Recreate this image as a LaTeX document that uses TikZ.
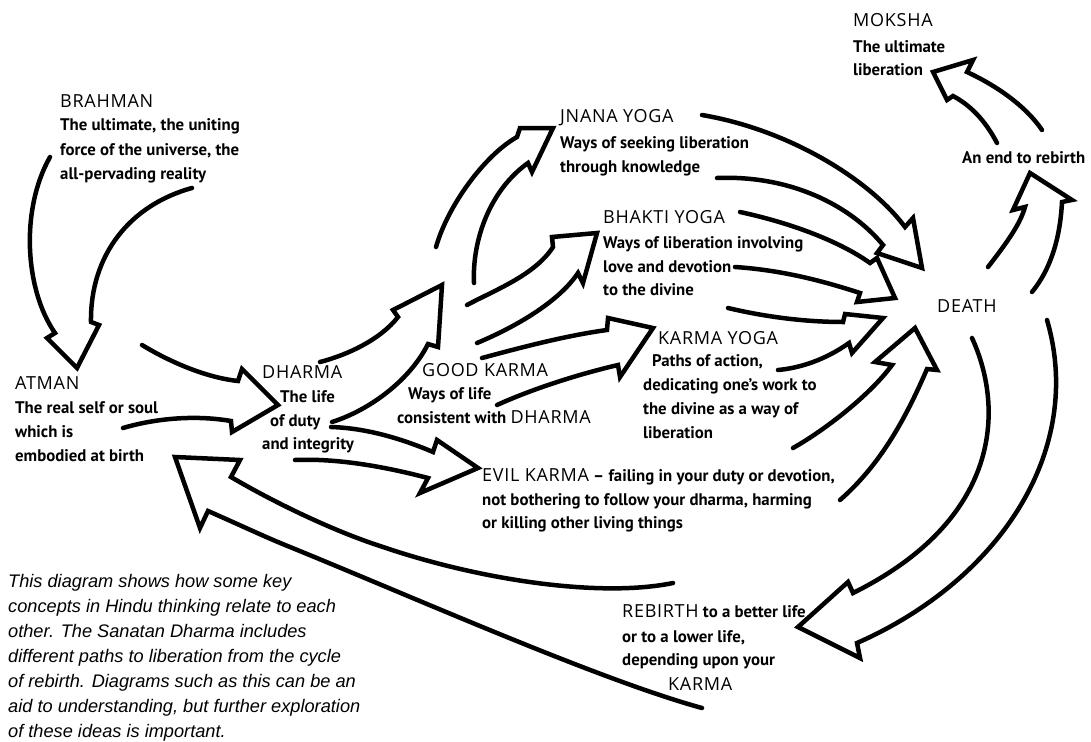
\documentclass[tikz,border=0pt]{standalone}
\usepackage{fontspec}
\setmainfont{PT Sans}
\newfontfamily\ttlfont[LetterSpace=4]{Open Sans}
\newfontfamily\capfont{Liberation Sans}
\begin{document}
\begin{tikzpicture}[x=1pt,y=-1pt,
  arr/.style={line width=4.5pt, line cap=round, line join=miter},
  ttl/.style={anchor=base west, inner sep=0pt, font=\ttlfont\fontsize{18}{20}\selectfont},
  bdy/.style={anchor=base west, inner sep=0pt, font=\fontsize{16.8}{20}\selectfont\bfseries},
  captxt/.style={anchor=base west, inner sep=0pt, font=\capfont\itshape\fontsize{18.2}{20}\selectfont}]
\useasboundingbox[fill=white] (0,0) rectangle (1091,741);

% ---------- texts ----------
\node[ttl] (brahman) at (60,107) {BRAHMAN};
\node[bdy] (brahman1) at (60,131) {The ultimate, the uniting};
\node[bdy] (brahman2) at (60,155) {force of the universe, the};
\node[bdy] (brahman3) at (60,179) {all-pervading reality};

\node[ttl] (atman) at (15,389) {ATMAN};
\node[bdy] (atman1) at (15,413) {The real self or soul};
\node[bdy] (atman2) at (15,437) {which is};
\node[bdy] (atman3) at (15,461) {embodied at birth};

\node[ttl] (dharma) at (262,378) {DHARMA};
\node[bdy] (dharma1) at (280,402) {The life};
\node[bdy] (dharma2) at (270,426) {of duty};
\node[bdy] (dharma3) at (262,449) {and integrity};

\node[ttl] (good) at (422,376) {GOOD KARMA};
\node[bdy] (good1) at (408,399) {Ways of life};
\node[bdy] (good2) at (397,423) {consistent with {\ttlfont\mdseries\fontsize{18}{20}\selectfont DHARMA}};

\node[ttl] (jnana) at (560,123) {JNANA YOGA};
\node[bdy] (jnana1) at (560,148) {Ways of seeking liberation};
\node[bdy] (jnana2) at (560,172) {through knowledge};

\node[ttl] (bhakti) at (603,223) {BHAKTI YOGA};
\node[bdy] (bhakti1) at (603,248) {Ways of liberation involving};
\node[bdy] (bhakti2) at (603,272) {love and devotion};
\node[bdy] (bhakti3) at (603,295) {to the divine};

\node[ttl] (karmay) at (658,344) {KARMA YOGA};
\node[bdy] (karmay1) at (652,366) {Paths of action,};
\node[bdy] (karmay2) at (643,390) {dedicating one’s work to};
\node[bdy] (karmay3) at (643,414) {the divine as a way of};
\node[bdy] (karmay4) at (643,438) {liberation};

\node[bdy] (evil) at (482,481) {{\ttlfont\mdseries\fontsize{18}{20}\selectfont EVIL KARMA} – failing in your duty or devotion,};
\node[bdy] (evil1) at (482,505) {not bothering to follow your dharma, harming};
\node[bdy] (evil2) at (482,528) {or killing other living things};

\node[ttl] (moksha) at (853,27) {MOKSHA};
\node[bdy] (moksha1) at (853,53) {The ultimate};
\node[bdy] (moksha2) at (853,76) {liberation};

\node[bdy] (endreb) at (962,163) {An end to rebirth};
\node[ttl] (death) at (937,312) {DEATH};

\node[bdy] (rebirth) at (622,617) {{\ttlfont\mdseries\fontsize{18}{20}\selectfont REBIRTH} to a better life};
\node[bdy] (rebirth1) at (622,642) {or to a lower life,};
\node[bdy] (rebirth2) at (622,665) {depending upon your};
\node[ttl] (rebirth3) at (668,690) {KARMA};

\node[captxt] (c1) at (8,587) {This diagram shows how some key};
\node[captxt] (c2) at (8,612) {concepts in Hindu thinking relate to each};
\node[captxt] (c3) at (8,637) {other. The Sanatan Dharma includes};
\node[captxt] (c4) at (8,662) {different paths to liberation from the cycle};
\node[captxt] (c5) at (8,687) {of rebirth. Diagrams such as this can be an};
\node[captxt] (c6) at (8,712) {aid to understanding, but further exploration};
\node[captxt] (c7) at (8,737) {of these ideas is important.};

% ---------- broad arrows ----------
% Brahman -> Atman
\draw[arr] (50,157) .. controls (20,210) and (25,290) .. (55,333) -- (47,338) -- (77,368) -- (99,325) -- (91,322) .. controls (90,255) and (130,205) .. (192,188);
% Atman -> Dharma
\draw[arr] (142,345) .. controls (175,365) and (210,378) .. (238,381) -- (242,369) -- (278,405) -- (232,432) -- (231,421) .. controls (190,414) and (150,420) .. (123,428);
% Dharma -> Good karma
\draw[arr] (320,362) .. controls (347,355) and (380,340) .. (398,317) -- (393,310) -- (442,285) -- (438,347) -- (428,344) .. controls (410,380) and (370,410) .. (332,422);
% Dharma -> Evil karma
\draw[arr] (331,427) .. controls (365,428) and (400,438) .. (433,452) -- (437,440) -- (478,468) -- (420,493) -- (428,478) .. controls (390,468) and (340,458) .. (295,460);
% Good karma -> Jnana yoga
\draw[arr] (436,247) .. controls (448,205) and (485,155) .. (517,137) -- (520,128) -- (553,128) -- (532,172) -- (528,163) .. controls (490,190) and (472,240) .. (474,283);
% Good karma -> Bhakti yoga
\draw[arr] (467,305) .. controls (495,290) and (535,275) .. (553,247) -- (552,237) -- (597,233) -- (583,283) -- (578,273) .. controls (560,300) and (520,325) .. (477,343);
% Good karma -> Karma yoga
\draw[arr] (482,358) .. controls (530,345) and (570,335) .. (607,330) -- (608,318) -- (653,328) -- (620,377) -- (618,365) .. controls (575,375) and (530,390) .. (497,405);
% Jnana -> Death
\draw[arr] (702,115) .. controls (790,130) and (870,180) .. (905,227) -- (913,218) -- (922,268) -- (877,253) -- (883,245) .. controls (850,205) and (790,175) .. (717,178);
% Bhakti -> Death
\draw[arr] (740,212) .. controls (800,225) and (845,245) .. (870,263) -- (877,258) -- (895,298) -- (857,302) -- (860,293) .. controls (820,280) and (780,270) .. (735,267);
% Karma yoga -> Death
\draw[arr] (728,308) .. controls (770,318) and (810,322) .. (843,322) -- (845,314) -- (883,318) -- (852,353) -- (849,343) .. controls (825,360) and (800,368) .. (778,370);
% Evil karma -> Death
\draw[arr] (793,448) .. controls (825,430) and (870,395) .. (892,365) -- (875,362) -- (915,328) -- (937,370) -- (927,369) .. controls (905,420) and (880,465) .. (840,500);
% Death -> an end to rebirth
\draw[arr] (988,267) .. controls (1005,245) and (1020,225) .. (1025,207) -- (1013,210) -- (1030,173) -- (1072,200) -- (1062,202) .. controls (1060,240) and (1050,270) .. (1032,292);
% an end to rebirth -> Moksha
\draw[arr] (997,143) .. controls (985,120) and (970,105) .. (953,96) -- (947,100) -- (933,72) -- (973,60) -- (967,72) .. controls (995,85) and (1025,105) .. (1042,130);
% Death -> Rebirth
\draw[arr] (972,338) .. controls (1005,410) and (1000,520) .. (853,593) -- (848,582) -- (798,627) -- (860,658) -- (857,643) .. controls (1000,580) and (1085,450) .. (1047,320);
% Rebirth -> Atman
\draw[arr] (673,583) .. controls (600,598) and (480,580) .. (383,547) .. controls (330,530) and (270,500) .. (231,477) -- (240,460) -- (175,457) -- (200,528) -- (208,511) .. controls (240,525) and (265,537) .. (290,547) .. controls (420,600) and (600,680) .. (702,708);
\end{tikzpicture}
\end{document}
